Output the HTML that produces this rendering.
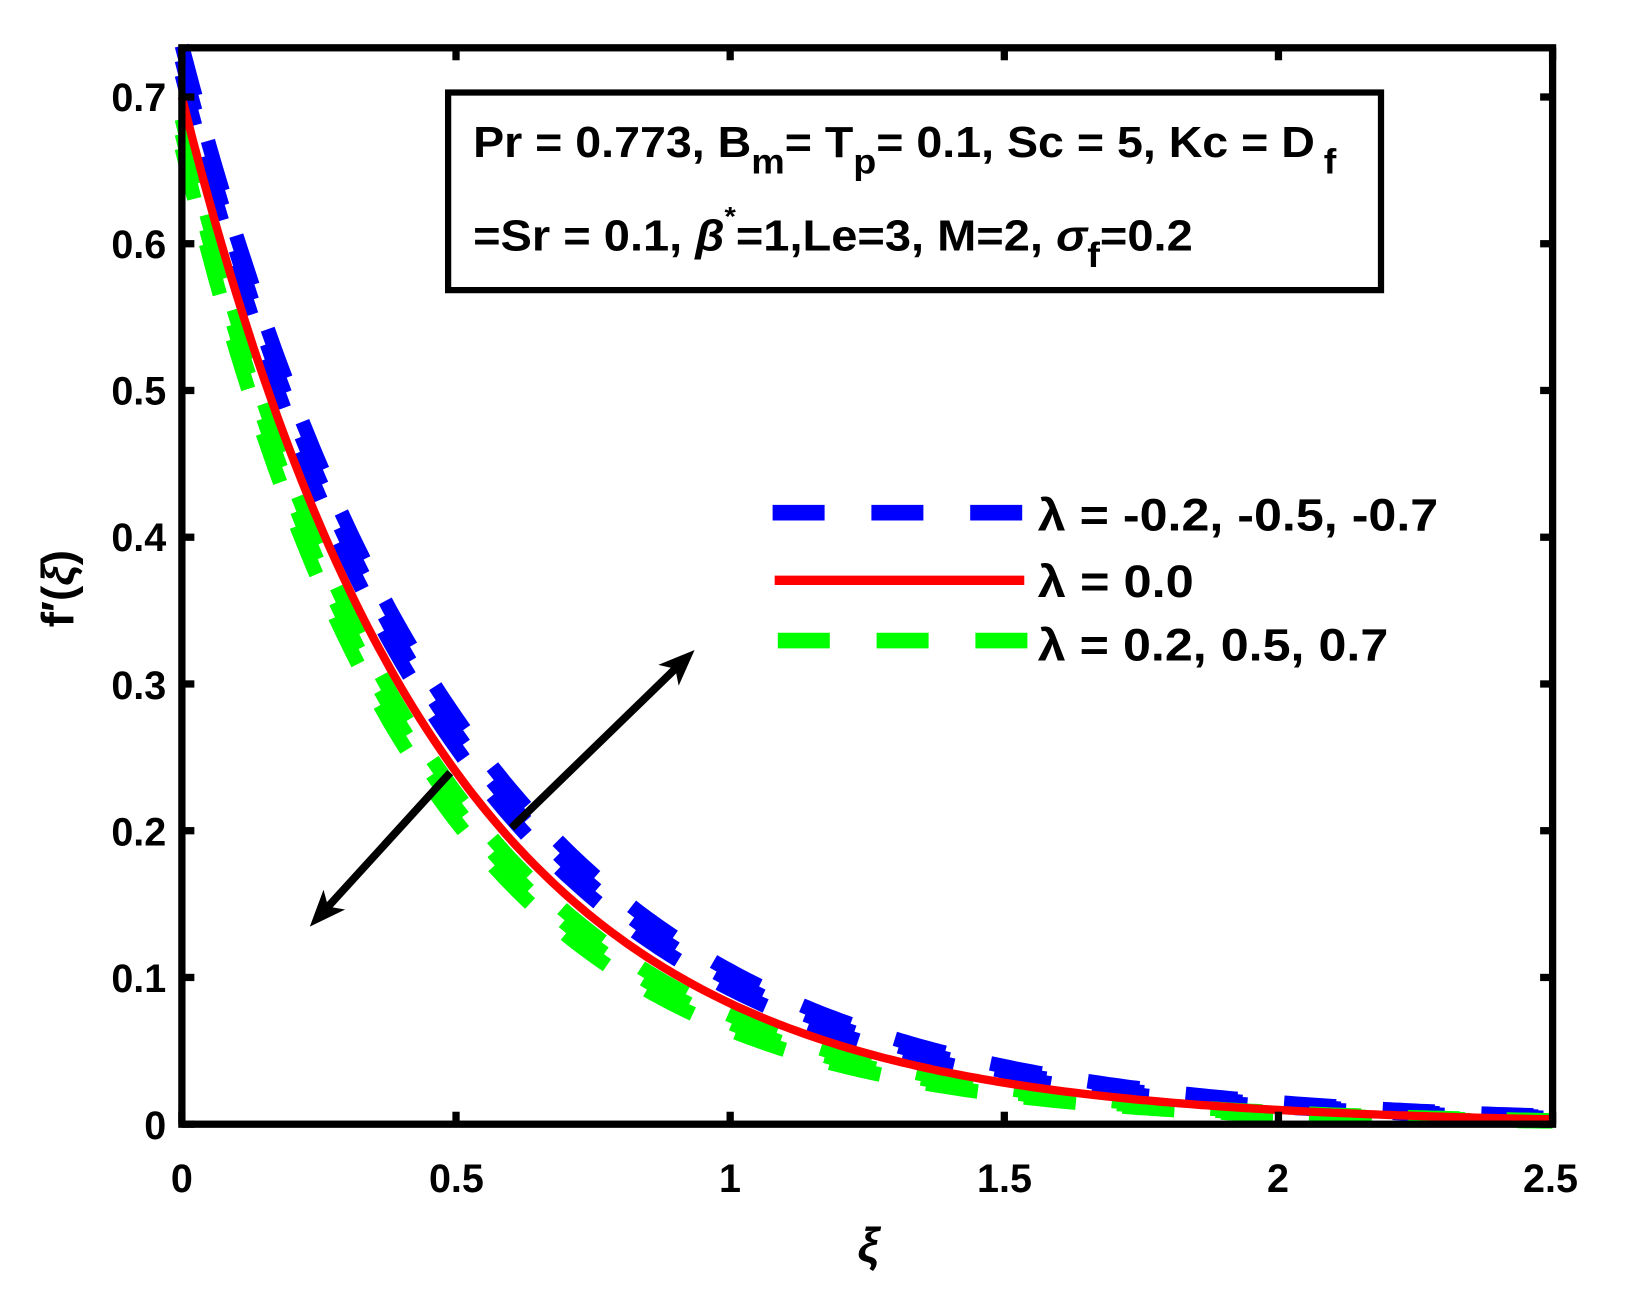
<!DOCTYPE html>
<html><head><meta charset="utf-8"><style>
html,body{margin:0;padding:0;background:#fff;}
svg{display:block;}
text{font-family:"Liberation Sans",sans-serif;font-weight:bold;fill:#000;}
</style></head><body>
<svg id="s" width="1633" height="1292" viewBox="0 0 1633 1292" xmlns="http://www.w3.org/2000/svg">
<g transform="translate(3,1) scale(1.04)">
<g id="curves"></g>
<rect x="172" y="45" width="1318" height="1035" fill="none" stroke="#000" stroke-width="7"/>
<g id="ticks" stroke="#000" stroke-width="7"></g>
<g font-size="38" text-anchor="end">
<text x="157" y="1094">0</text>
<text x="157" y="953">0.1</text>
<text x="157" y="812">0.2</text>
<text x="157" y="671">0.3</text>
<text x="157" y="529">0.4</text>
<text x="157" y="388">0.5</text>
<text x="157" y="247">0.6</text>
<text x="157" y="106">0.7</text>
</g>
<g font-size="38" text-anchor="middle">
<text x="172" y="1145">0</text>
<text x="436" y="1145">0.5</text>
<text x="699" y="1145">1</text>
<text x="963" y="1145">1.5</text>
<text x="1226" y="1145">2</text>
<text x="1488" y="1145">2.5</text>
</g>
<text x="832" y="1212" font-size="46" font-style="italic" text-anchor="middle" font-family="Liberation Serif,serif">ξ</text>
<text transform="translate(68,565) rotate(-90)" font-size="44" text-anchor="middle">f′(<tspan font-style="italic">ξ</tspan>)</text>
<rect x="428" y="88" width="897" height="190" fill="#fff" stroke="#000" stroke-width="6"/>
<text x="452" y="150" font-size="42" textLength="830" lengthAdjust="spacingAndGlyphs">Pr = 0.773, B<tspan dy="16" font-size="34">m</tspan><tspan dy="-16">= T</tspan><tspan dy="16" font-size="34">p</tspan><tspan dy="-16">= 0.1, Sc = 5, Kc = D</tspan><tspan dx="8" dy="16" font-size="34">f</tspan></text>
<text x="452" y="240" font-size="42" textLength="692" lengthAdjust="spacingAndGlyphs">=Sr = 0.1,  <tspan font-style="italic">β</tspan><tspan dy="-24" font-size="26">*</tspan><tspan dy="24">=1,Le=3, M=2,  </tspan><tspan font-style="italic">σ</tspan><tspan dy="16" font-size="34">f</tspan><tspan dy="-16">=0.2</tspan></text>
<line x1="740" y1="492" x2="980" y2="492" stroke="#0000ff" stroke-width="15" stroke-dasharray="50 45"/>
<line x1="742" y1="557" x2="982" y2="557" stroke="#ff0000" stroke-width="9"/>
<line x1="745" y1="615" x2="985" y2="615" stroke="#00ff00" stroke-width="15" stroke-dasharray="50 45"/>
<g font-size="44">
<text x="995" y="509" textLength="385" lengthAdjust="spacingAndGlyphs">λ = -0.2, -0.5, -0.7</text>
<text x="995" y="573" textLength="150" lengthAdjust="spacingAndGlyphs">λ = 0.0</text>
<text x="995" y="634" textLength="337" lengthAdjust="spacingAndGlyphs">λ = 0.2, 0.5, 0.7</text>
</g>
<line x1="430" y1="742" x2="312.6" y2="870.8" stroke="#000" stroke-width="7.5"/>
<polygon points="295,890 329,873.6 312.6,870.8 308.2,854.6" fill="#000"/>
<line x1="489" y1="795" x2="646.4" y2="642.1" stroke="#000" stroke-width="7.5"/>
<polygon points="665,624 649.7,658.4 646.4,642.1 630.1,638.4" fill="#000"/>
</g>
</svg>
<script>
(function(){
var NS="http://www.w3.org/2000/svg";
var X=function(v){return 172+v*527.2;}, Y=function(v){return 1080-v*1411;};
var g=document.getElementById('curves');
var arrows=null;
function curve(a,k,col,w,dash){
  var d="";
  for(var i=0;i<=250;i++){var x=i*0.01;var y=a*Math.exp(-k*x);d+=(i?"L":"M")+X(x).toFixed(1)+","+Y(y).toFixed(1);}
  var p=document.createElementNS(NS,'path');p.setAttribute('d',d);p.setAttribute('fill','none');
  p.setAttribute('stroke',col);p.setAttribute('stroke-width',w);if(dash)p.setAttribute('stroke-dasharray',dash);
  g.appendChild(p);
}
curve(0.735,1.95,'#0000ff',14,'50 45');
curve(0.725,2.0,'#0000ff',14,'50 45');
curve(0.715,2.05,'#0000ff',14,'50 45');
curve(0.685,2.22,'#00ff00',14,'50 45');
curve(0.675,2.28,'#00ff00',14,'50 45');
curve(0.665,2.34,'#00ff00',14,'50 45');
curve(0.70,2.14,'#ff0000',8,null);
var t=document.getElementById('ticks');
function ln(x1,y1,x2,y2){var l=document.createElementNS(NS,'line');l.setAttribute('x1',x1);l.setAttribute('y1',y1);l.setAttribute('x2',x2);l.setAttribute('y2',y2);t.appendChild(l);}
for(var i=0;i<=5;i++){var x=X(i*0.5);ln(x,1080,x,1068);ln(x,45,x,57);}
for(var j=0;j<=7;j++){var y=Y(j*0.1);ln(172,y,184,y);ln(1490,y,1478,y);}
})();
</script>
</body></html>
